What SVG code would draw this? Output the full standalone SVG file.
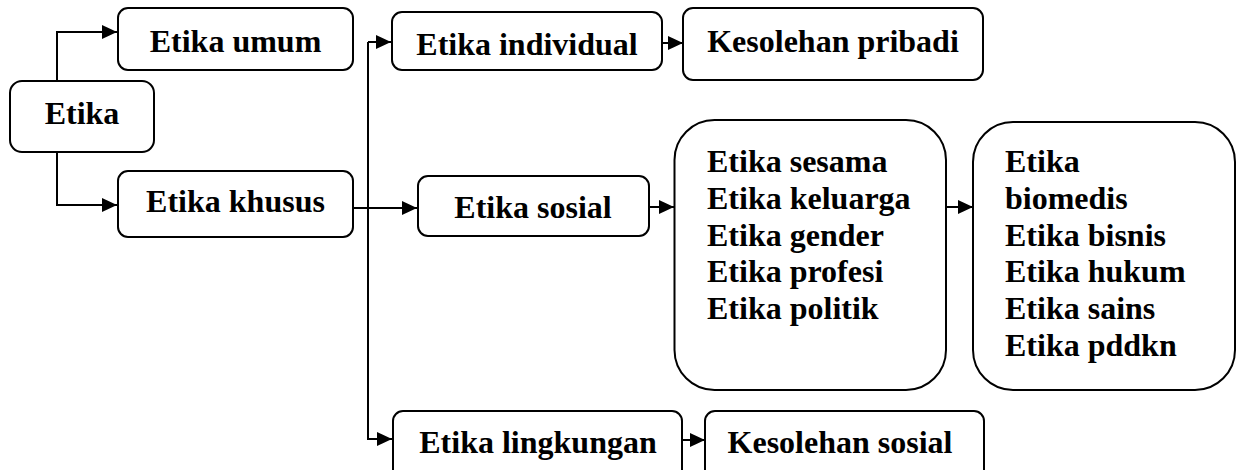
<svg xmlns="http://www.w3.org/2000/svg" width="1241" height="470" viewBox="0 0 1241 470">
<style>
.box{fill:#fff;stroke:#000;stroke-width:2}
.t{font-family:'Liberation Serif',Tinos,'Times New Roman',Times,serif;font-weight:700;font-size:32px;fill:#000}
.c{text-anchor:middle}
.ln{fill:none;stroke:#000;stroke-width:2}
</style>
<defs>
<marker id="ah" markerUnits="userSpaceOnUse" markerWidth="16" markerHeight="14" refX="15" refY="7" orient="auto">
<path d="M0,0 L15,7 L0,14 z" fill="#000"/>
</marker>
</defs>
<rect width="1241" height="470" fill="#fff"/>
<g id="connectors">
<path class="ln" d="M57,81 V32 H117" marker-end="url(#ah)"/>
<path class="ln" d="M57,153 V205 H117" marker-end="url(#ah)"/>
<path class="ln" d="M353,208 H417" marker-end="url(#ah)"/>
<path class="ln" d="M368,42 H391" marker-end="url(#ah)"/>
<path class="ln" d="M368,42 V439 H392" marker-end="url(#ah)"/>
<path class="ln" d="M662,43 H683" marker-end="url(#ah)"/>
<path class="ln" d="M649,207 H674" marker-end="url(#ah)"/>
<path class="ln" d="M946,207 H973" marker-end="url(#ah)"/>
<path class="ln" d="M682,440 H705" marker-end="url(#ah)"/>
</g>
<g id="etika">
<rect class="box" x="10" y="81" width="144" height="71" rx="12"/>
<text class="t c" x="82" y="124" font-family="Liberation Serif">Etika</text>
</g>
<g id="etika-umum">
<rect class="box" x="118" y="8" width="235" height="62" rx="10"/>
<text class="t c" x="235.5" y="52">Etika umum</text>
</g>
<g id="etika-khusus">
<rect class="box" x="118" y="171" width="235" height="66" rx="10"/>
<text class="t c" x="235.5" y="212">Etika khusus</text>
</g>
<g id="etika-individual">
<rect class="box" x="392" y="12" width="270" height="58" rx="10"/>
<text class="t c" x="527" y="55">Etika individual</text>
</g>
<g id="kesolehan-pribadi">
<rect class="box" x="683" y="8" width="300" height="72" rx="10"/>
<text class="t c" x="833" y="52">Kesolehan pribadi</text>
</g>
<g id="etika-sosial">
<rect class="box" x="418" y="176" width="231" height="60" rx="10"/>
<text class="t c" x="533" y="218">Etika sosial</text>
</g>
<g id="sosial-list">
<rect class="box" x="674.5" y="120" width="271.5" height="270" rx="40"/>
<text class="t" x="707" y="172">Etika sesama</text>
<text class="t" x="707" y="208.8">Etika keluarga</text>
<text class="t" x="707" y="245.6">Etika gender</text>
<text class="t" x="707" y="282.4">Etika profesi</text>
<text class="t" x="707" y="319.2">Etika politik</text>
</g>
<g id="terapan-list">
<rect class="box" x="973" y="122" width="262" height="268" rx="40"/>
<text class="t" x="1005" y="172">Etika</text>
<text class="t" x="1005" y="208.8">biomedis</text>
<text class="t" x="1005" y="245.6">Etika bisnis</text>
<text class="t" x="1005" y="282.4">Etika hukum</text>
<text class="t" x="1005" y="319.2">Etika sains</text>
<text class="t" x="1005" y="356">Etika pddkn</text>
</g>
<g id="etika-lingkungan">
<rect class="box" x="393" y="411" width="289" height="72" rx="10"/>
<text class="t c" x="538" y="453">Etika lingkungan</text>
</g>
<g id="kesolehan-sosial">
<rect class="box" x="705" y="411" width="279" height="72" rx="10"/>
<text class="t c" x="840" y="453">Kesolehan sosial</text>
</g>
</svg>
